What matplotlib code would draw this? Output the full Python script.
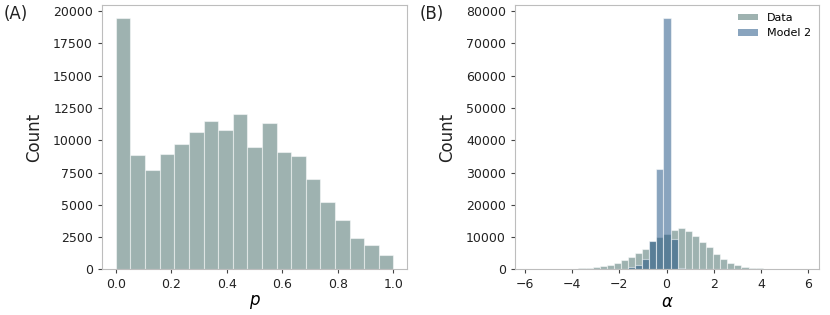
import numpy as np
import matplotlib
matplotlib.use('Agg')
import matplotlib.pyplot as plt
from matplotlib.patches import Patch

# Panel A: histogram of p (19 equal bins on [0, 1])
p_edges = np.linspace(0.0, 1.0, 20)
p_counts = [19500, 8830, 7710, 8960, 9710, 10620, 11470, 10770, 12020,
            9450, 11300, 9070, 8760, 7030, 5230, 3790, 2400, 1900, 1120]

# Panel B: histogram of alpha, shared bins of width 0.3
a_edges = -5.83 + 0.3 * np.arange(40)
a_data = [50, 30, 50, 70, 100, 150, 200, 300, 420, 730,
          1050, 1250, 2000, 2800, 3750, 5000, 6250, 8900, 9900, 11000,
          12250, 12800, 12000, 10300, 8600, 6850, 4770, 3100, 1960, 1240,
          720, 400, 300, 40, 20, 10, 10, 0, 5]
a_model = [0, 0, 0, 0, 0, 0, 0, 0, 0, 0,
           0, 0, 20, 100, 600, 1350, 3250, 8700, 31000, 78000,
           9500, 400, 0, 0, 0, 0, 0, 0, 0, 0,
           0, 0, 0, 0, 0, 0, 0, 0, 0]

data_col = '#3f6763'
model_col = '#154b7f'
spine_col = '#bdbdbd'
text_col = '#222222'

fig = plt.figure(figsize=(8.3, 3.15), dpi=100)
axA = fig.add_axes([0.1229, 0.145, 0.3678, 0.839])
axB = fig.add_axes([0.6205, 0.145, 0.3663, 0.839])

axA.bar(p_edges[:-1], p_counts, width=np.diff(p_edges), align='edge',
        color=data_col, alpha=0.5, edgecolor='white', linewidth=0.8)
axA.set_xlim(-0.05, 1.05)
axA.set_xticks([0.0, 0.2, 0.4, 0.6, 0.8, 1.0])
axA.set_yticks(np.arange(0, 20001, 2500))
axA.set_xlabel('$p$', fontsize=12, labelpad=1)

w = np.diff(a_edges)
axB.bar(a_edges[:-1], a_data, width=w, align='edge',
        color=data_col, alpha=0.5, edgecolor='white', linewidth=0.8)
axB.bar(a_edges[:-1], a_model, width=w, align='edge',
        color=model_col, alpha=0.5, edgecolor='white', linewidth=0.8)
axB.set_xlim(a_edges[0] - 0.585, a_edges[-1] + 0.585)
axB.set_xticks(np.arange(-6, 7, 2))
axB.set_yticks(np.arange(0, 80001, 10000))
axB.set_xlabel(r'$\alpha$', fontsize=12, labelpad=1)

for ax in (axA, axB):
    ax.set_ylim(bottom=0)
    ax.set_ylabel('Count', fontsize=12, color=text_col, labelpad=7)
    for s in ax.spines.values():
        s.set_color(spine_col)
        s.set_linewidth(0.8)
    ax.tick_params(direction='out', length=3, width=0.8, color='#444444',
                   labelsize=9, labelcolor=text_col, pad=3.5)

axB.legend(handles=[Patch(facecolor=data_col, alpha=0.5, edgecolor='none', label='Data'),
                    Patch(facecolor=model_col, alpha=0.5, edgecolor='none', label='Model 2')],
           frameon=False, fontsize=8, loc='upper right', handlelength=1.8,
           handleheight=0.5, borderaxespad=0.3)

fig.text(0.004, 0.985, '(A)', fontsize=12, va='top', ha='left', color=text_col)
fig.text(0.506, 0.985, '(B)', fontsize=12, va='top', ha='left', color=text_col)

fig.savefig('out.png', dpi=100)
